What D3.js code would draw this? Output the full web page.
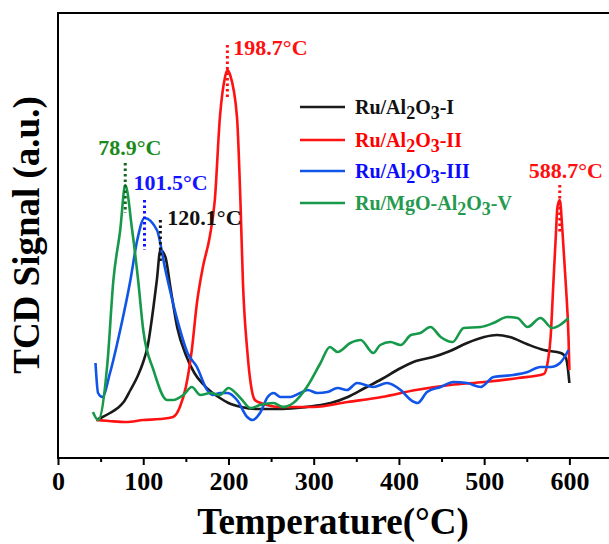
<!DOCTYPE html>
<html>
<head>
<meta charset="utf-8">
<script src="https://cdn.jsdelivr.net/npm/d3@7"></script>
<style>
  body { margin: 0; background: #fff; }
  svg text { font-family: "Liberation Serif", "Times New Roman", serif; font-weight: bold; }
</style>
</head>
<body>
<svg id="chart" width="609" height="544"></svg>
<script>
// DATA  (temperature in °C, TCD signal in a.u.)
var seriesNames = ["Ru/Al2O3-I", "Ru/Al2O3-II", "Ru/Al2O3-III", "Ru/MgO-Al2O3-V"];

var dataI = [[45,38],[50,40],[61,45],[70,50],[77,56],[85,68],[93,81],[100,96],[105,111],[112,151],
    [116,178],[120.1,208],[126,201],[132,170],[140,130],[150,103],[160,85],[170,74],[180,66],[190,60],
    [200,55],[215,51],[235,49],[260,49],[280,50],[300,52],[320,55],[340,61],[360,70],[380,79],
    [400,89],[420,97],[440,101],[460,107],[480,115],[500,121],[515,123],[530,121],[550,114],[570,108],
    [590,105],[596,100],[598,91],[600,75]];

var dataII = [[45,38],[60,37],[80,36],[100,38],[120,39],[135,41],[143,51],[150,71],[157,108],[163,155],
    [170,191],[178,221],[184,258],[190,341],[196,381],[198.7,388],[202,383],[210,341],[214,258],[217,175],
    [222,108],[226,75],[231,58],[238,55],[245,53],[260,51],[280,51],[300,51],[340,56],[380,61],
    [420,68],[460,73],[500,76],[540,80],[570,84],[575,98],[578,121],[581,171],[584,221],[586,251],
    [588.7,258],[592,225],[596,171],[599,120],[600,88]];

var dataIII = [[44,95],[47,65],[52,61],[61,85],[73,128],[85,178],[93,218],[101.5,240],[116,228],[126,188],
    [140,138],[152,105],[163,91],[175,68],[182,63],[190,65],[199,65],[210,58],[222,41],[228,38],
    [237,45],[246,61],[253,65],[261,61],[273,61],[284,65],[293,68],[304,65],[316,66],[328,70],
    [339,68],[351,75],[370,71],[386,75],[402,68],[414,58],[422,55],[433,66],[449,71],[464,76],
    [480,75],[496,71],[511,81],[534,83],[551,86],[566,91],[578,91],[589,95],[599,108]];

var dataV = [[41,46],[47,38],[58,95],[65,178],[73,228],[78.9,273],[87,228],[94,178],[100,128],[112,88],
    [128,58],[135,58],[147,63],[157,71],[167,63],[179,65],[190,63],[200,70],[214,60],[226,50],
    [237,53],[253,55],[264,51],[276,55],[292,71],[308,95],[319,111],[328,106],[343,115],[355,118],
    [370,105],[378,113],[390,116],[402,113],[414,123],[425,125],[437,131],[449,121],[463,116],[476,130],
    [496,131],[511,135],[527,141],[539,140],[551,131],[566,140],[580,130],[589,133],[599,140]];

var seriesData = [dataI, dataII, dataIII, dataV];

// peak annotations
var peakTemps = [78.9, 101.5, 120.1, 198.7, 588.7];
var peakSignals = [273, 240, 208, 388, 258];
var peakTexts = ["78.9°C", "101.5°C", "120.1°C", "198.7°C", "588.7°C"];

var xTicks = [0, 100, 200, 300, 400, 500, 600];
var xMinorTicks = [50, 150, 250, 350, 450, 550, 650];

// STYLE
var lineColors = ["#1a1a1a", "#ff1212", "#1054e8", "#16994a"];
var legendColors = ["#111111", "#ff0000", "#0a0aff", "#259a4e"];
var peakColors = ["#1a8a1a", "#1414ff", "#111111", "#ff0f0f", "#ff0f0f"];
var dotColors = ["#15651a", "#1414ff", "#111111", "#ff0f0f", "#ff0f0f"];
// dotted line [above, below] peak in px, text [dx, dy from dotted top]
var peakStyle = [[22, 28, -27, -8], [18, 32, -11, -10], [30, 13, 7, 5], [25, 27, 6, 10], [15, 33, -31, -7]];

var svg = d3.select("#chart");
var plotLeft = 58, plotRight = 612, plotTop = 13, plotBottom = 458;

var x = d3.scaleLinear().domain([0, 650]).range([plotLeft, plotRight]);
var y = d3.scaleLinear().domain([0, 445]).range([plotBottom, plotTop]);

// frame
svg.append("rect")
    .attr("x", plotLeft).attr("y", plotTop)
    .attr("width", plotRight - plotLeft).attr("height", plotBottom - plotTop)
    .attr("fill", "none").attr("stroke", "#000").attr("stroke-width", 2);

// x axis, major + minor ticks
var xAxis = svg.append("g")
    .attr("transform", "translate(0," + plotBottom + ")")
    .call(d3.axisBottom(x).tickValues(xTicks).tickSize(7).tickPadding(7).tickFormat(d3.format("d")));
xAxis.select(".domain").remove();
xAxis.selectAll("line").attr("stroke-width", 2);
xAxis.selectAll("text")
    .attr("font-size", 26)
    .attr("fill", "#000")
    .style("font-family", "'Liberation Serif', serif");

var xMinor = svg.append("g")
    .attr("transform", "translate(0," + plotBottom + ")")
    .call(d3.axisBottom(x).tickValues(xMinorTicks).tickSize(4).tickFormat(""));
xMinor.select(".domain").remove();
xMinor.selectAll("line").attr("stroke-width", 2);

// axis titles
svg.append("text")
    .attr("x", 333).attr("y", 534)
    .attr("text-anchor", "middle")
    .attr("font-size", 37)
    .text("Temperature(°C)");

svg.append("text")
    .attr("transform", "translate(39,235) rotate(-90)")
    .attr("text-anchor", "middle")
    .attr("font-size", 37)
    .text("TCD Signal (a.u.)");

// curves
var line = d3.line()
    .x(function (d) { return x(d[0]); })
    .y(function (d) { return y(d[1]); })
    .curve(d3.curveMonotoneX);

for (var i = 0; i < seriesData.length; i++) {
    svg.append("path")
        .datum(seriesData[i])
        .attr("d", line)
        .attr("fill", "none")
        .attr("stroke", lineColors[i])
        .attr("stroke-width", 2.6)
        .attr("stroke-linejoin", "round");
}

// peak markers
for (var p = 0; p < peakTemps.length; p++) {
    var px = x(peakTemps[p]), py = y(peakSignals[p]);
    var st = peakStyle[p];
    svg.append("line")
        .attr("x1", px).attr("x2", px)
        .attr("y1", py - st[0]).attr("y2", py + st[1])
        .attr("stroke", dotColors[p])
        .attr("stroke-width", 3)
        .attr("stroke-dasharray", "2.5,3");
    svg.append("text")
        .attr("x", px + st[2]).attr("y", py - st[0] + st[3])
        .attr("font-size", 22)
        .attr("fill", peakColors[p])
        .text(peakTexts[p]);
}

// legend
function addLabel(sel, name) {
    // digits become subscripts (Al2O3)
    var parts = name.split(/(\d)/);
    var shift = 0;
    parts.forEach(function (s) {
        if (s === "") return;
        if (/\d/.test(s)) {
            sel.append("tspan").attr("dy", 5 - shift).attr("font-size", 18).text(s);
            shift = 5;
        } else {
            sel.append("tspan").attr("dy", -shift).text(s);
            shift = 0;
        }
    });
}

var legend = svg.append("g");
var legendY = [107, 140, 171, 203];
for (var j = 0; j < seriesNames.length; j++) {
    legend.append("line")
        .attr("x1", 300).attr("x2", 345)
        .attr("y1", legendY[j]).attr("y2", legendY[j])
        .attr("stroke", lineColors[j])
        .attr("stroke-width", 2.6);
    var t = legend.append("text")
        .attr("x", 355).attr("y", legendY[j] + 7)
        .attr("font-size", 20)
        .attr("fill", legendColors[j]);
    addLabel(t, seriesNames[j]);
}
</script>
</body>
</html>
